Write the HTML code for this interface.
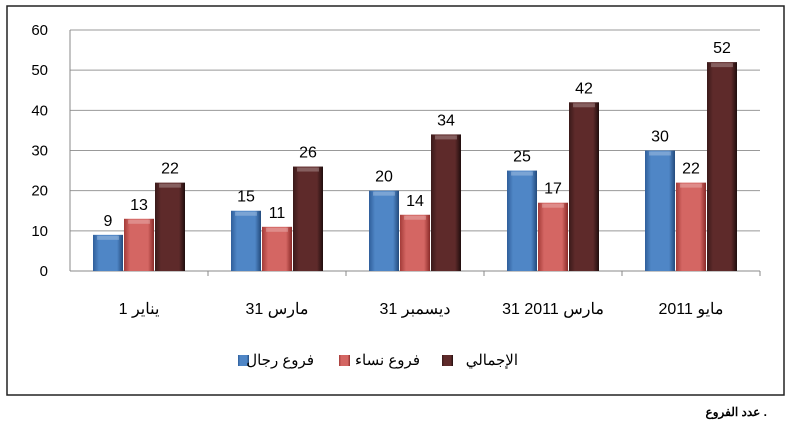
<!DOCTYPE html>
<html><head><meta charset="utf-8"><style>
body{margin:0;background:#fff;width:787px;height:426px;overflow:hidden}
text{font-family:"Liberation Sans","Noto Sans CJK SC",sans-serif}
</style></head><body>
<svg width="787" height="426">
<defs>
<linearGradient id="gb" x1="0" x2="1"><stop offset="0" stop-color="#2f5e9a"/><stop offset="0.2" stop-color="#4f86c6"/><stop offset="0.8" stop-color="#4f86c6"/><stop offset="1" stop-color="#234a7c"/></linearGradient>
<linearGradient id="gr" x1="0" x2="1"><stop offset="0" stop-color="#a33b38"/><stop offset="0.2" stop-color="#d46663"/><stop offset="0.8" stop-color="#d46663"/><stop offset="1" stop-color="#8a2a28"/></linearGradient>
<linearGradient id="gd" x1="0" x2="1"><stop offset="0" stop-color="#3a1a1a"/><stop offset="0.2" stop-color="#5e2a2a"/><stop offset="0.8" stop-color="#5e2a2a"/><stop offset="1" stop-color="#1f0d0d"/></linearGradient>
</defs>
<rect x="7" y="6" width="777" height="389" fill="#fff" stroke="#222" stroke-width="1.5"/>
<g id="grid"></g><g id="bars"></g><g id="labels"></g>
<g>
<rect x="238" y="355" width="11" height="11" fill="url(#gb)"/>
<text x="314" y="365" font-size="15" text-anchor="end">فروع رجال</text>
<rect x="339" y="355" width="11" height="11" fill="url(#gr)"/>
<text x="420" y="365" font-size="15" text-anchor="end">فروع نساء</text>
<rect x="442" y="355" width="11" height="11" fill="url(#gd)"/>
<text x="518" y="365" font-size="15" text-anchor="end">الإجمالي</text>
</g>
<text x="767" y="416" font-size="12" font-weight="bold" text-anchor="end">عدد الفروع .</text>
</svg>
<script>
const categories=["1 يناير","31 مارس","31 ديسمبر","31 مارس 2011","مايو 2011"];
const men=[9,15,20,25,30];
const women=[13,11,14,17,22];
const total=[22,26,34,42,52];
const ticks=[0,10,20,30,40,50,60];
const NS="http://www.w3.org/2000/svg";
const x0=70,catW=138,yBase=271,pxU=4.017;
const y=v=>yBase-v*pxU;
function mk(tag,attrs,parent){const e=document.createElementNS(NS,tag);for(const k in attrs)e.setAttribute(k,attrs[k]);document.getElementById(parent).appendChild(e);return e;}
ticks.forEach(t=>{
 const l=mk('line',{x1:x0,x2:760,y1:y(t),y2:y(t),stroke:t===0?'#888':'#999','stroke-width':1},'grid');
 
 
 const tx=mk('text',{x:48,y:y(t)+5,'font-size':15,'text-anchor':'end'},'labels');tx.textContent=t;
 
 
});
mk('line',{x1:x0,x2:x0,y1:y(60),y2:yBase,stroke:'#888'},'grid');
categories.forEach((c,i)=>{
 const tk=mk('line',{x1:x0+catW*(i+1),x2:x0+catW*(i+1),y1:yBase,y2:yBase+5,stroke:'#888'},'grid');
 
 
 const cx=x0+catW*i+catW/2;
 const lb=mk('text',{x:cx,y:314,'font-size':16,'text-anchor':'middle'},'labels');lb.textContent=c;
 
 
 [[men,'gb','men'],[women,'gr','women'],[total,'gd','total']].forEach(([arr,g,n],j)=>{
  const v=arr[i],bx=cx-46+j*31,w=30;
  const r=mk('rect',{x:bx,y:y(v),width:w,height:yBase-y(v),fill:'url(#'+g+')'},'bars');
  
  
  mk('rect',{x:bx+4,y:y(v)+1,width:w-8,height:4,fill:'#fff','fill-opacity':0.25},'bars');
  const t=mk('text',{x:bx+w/2,y:y(v)-9,'font-size':16,'text-anchor':'middle'},'labels');t.textContent=v;
  
  
 });
});
</script>
</body></html>
